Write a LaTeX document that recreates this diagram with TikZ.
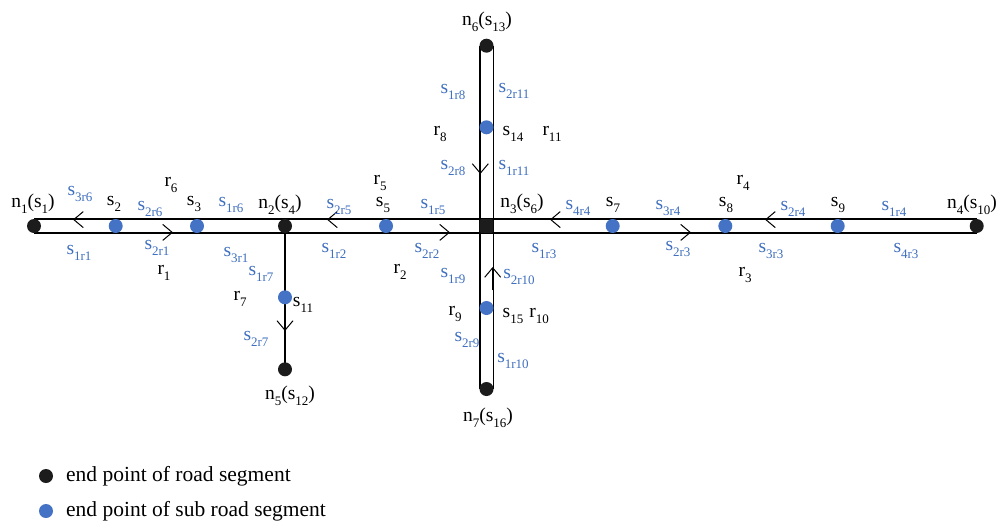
\documentclass[tikz,border=0pt]{standalone}
\usepackage{fontspec}
\setmainfont{Liberation Serif}
\usetikzlibrary{arrows.meta}
\definecolor{dotblue}{RGB}{68,114,196}
\definecolor{txtblue}{RGB}{62,110,190}
\definecolor{dotblack}{RGB}{28,28,28}
\newcommand{\lbl}[2]{#1\raisebox{-0.32em}{\fontsize{13}{13}\selectfont #2}}
\begin{document}
\begin{tikzpicture}[x=1pt,y=-1pt,
 road/.style={line width=1.2pt, black},
 marker/.style={line width=1pt, -{Straight Barb[length=9.5pt,width=16pt]}},
 enddot/.style={circle, fill=dotblack, inner sep=0pt, minimum size=14pt},
 subdot/.style={circle, fill=dotblue, inner sep=0pt, minimum size=14pt},
 lab/.style={font=\fontsize{19.5}{22}\selectfont, inner sep=0pt, text=black},
 slab/.style={lab, text=txtblue}]
\useasboundingbox (0,0) rectangle (1000,522);
% positions
\coordinate (n1) at (34,226);
\coordinate (s2) at (115.7,226);
\coordinate (s3) at (197,226);
\coordinate (n2) at (285,226);
\coordinate (s5) at (386,226);
\coordinate (n3) at (486.5,226);
\coordinate (s7) at (612.7,226);
\coordinate (s8) at (725.3,226);
\coordinate (s9) at (837.7,226);
\coordinate (n4) at (976.7,226);
\coordinate (n6) at (486.5,45.7);
\coordinate (s14) at (486.5,127.3);
\coordinate (s15) at (486.5,308);
\coordinate (n7) at (486.5,389);
\coordinate (s11) at (285,297.3);
\coordinate (n5) at (285,369.3);
% roads
\draw[road] ([yshift=7pt]n1) -- ([yshift=7pt]n4);
\draw[road] ([yshift=-7pt]n1) -- ([yshift=-7pt]n4);
\draw[road] ([xshift=-6.6pt]n6) -- ([xshift=-6.6pt]n7);
\draw[road] ([xshift=6.6pt]n6) -- ([xshift=6.6pt]n7);
\draw[road] (n2) -- (n5);
% direction markers
\draw[marker] (90,219.6) -- (73,219.6);
\draw[marker] (367,219.6) -- (327,219.6);
\draw[marker] (583,219.6) -- (550,219.6);
\draw[marker] (805,219.6) -- (765,219.6);
\draw[marker] (133,232.4) -- (173,232.4);
\draw[marker] (407,232.4) -- (450,232.4);
\draw[marker] (650,232.4) -- (691,232.4);
\draw[marker] (480.3,140) -- (480.3,174);
\draw[marker] (492.7,290) -- (492.7,267);
\draw[marker] (285,310) -- (285,331);
% dots
\node[enddot] (dn1) at (n1) {};
\node[enddot] (dn2) at (n2) {};
\node[enddot, rectangle, rounded corners=2pt, minimum size=13.8pt] (dn3) at (n3) {};
\node[enddot] (dn4) at (n4) {};
\node[enddot] (dn5) at (n5) {};
\node[enddot] (dn6) at (n6) {};
\node[enddot] (dn7) at (n7) {};
\foreach \p in {s2,s3,s5,s7,s8,s9,s11,s14,s15} {\node[subdot] (d\p) at (\p) {};}
% black labels
\node[lab] (ln1) at (33,204) {\lbl{n}{1}(\lbl{s}{1})};
\node[lab] (ls2) at (114,204) {\lbl{s}{2}};
\node[lab] (ls3) at (194,204) {\lbl{s}{3}};
\node[lab] (ln2) at (280,205) {\lbl{n}{2}(\lbl{s}{4})};
\node[lab] (ls5) at (383,205) {\lbl{s}{5}};
\node[lab] (ln3) at (522,204) {\lbl{n}{3}(\lbl{s}{6})};
\node[lab] (ls7) at (613,205) {\lbl{s}{7}};
\node[lab] (ls8) at (726,205) {\lbl{s}{8}};
\node[lab] (ls9) at (838,205) {\lbl{s}{9}};
\node[lab] (ln4) at (972,205) {\lbl{n}{4}(\lbl{s}{10})};
\node[lab] (ln6) at (487,22) {\lbl{n}{6}(\lbl{s}{13})};
\node[lab] (ln7) at (488,418) {\lbl{n}{7}(\lbl{s}{16})};
\node[lab] (ln5) at (290,396) {\lbl{n}{5}(\lbl{s}{12})};
\node[lab] (ls11) at (303,305) {\lbl{s}{11}};
\node[lab] (ls14) at (513,134) {\lbl{s}{14}};
\node[lab] (ls15) at (513,316) {\lbl{s}{15}};
\node[lab] (lr1) at (164,273) {\lbl{r}{1}};
\node[lab] (lr2) at (400,272) {\lbl{r}{2}};
\node[lab] (lr3) at (745,275) {\lbl{r}{3}};
\node[lab] (lr4) at (743,183) {\lbl{r}{4}};
\node[lab] (lr5) at (380,183) {\lbl{r}{5}};
\node[lab] (lr6) at (171,185) {\lbl{r}{6}};
\node[lab] (lr7) at (240,299) {\lbl{r}{7}};
\node[lab] (lr8) at (440,134) {\lbl{r}{8}};
\node[lab] (lr9) at (455,314) {\lbl{r}{9}};
\node[lab] (lr10) at (539,316) {\lbl{r}{10}};
\node[lab] (lr11) at (552,134) {\lbl{r}{11}};
% blue labels
\node[slab] (a1) at (80,194) {\lbl{s}{3r6}};
\node[slab] (a2) at (150,209) {\lbl{s}{2r6}};
\node[slab] (a3) at (231,205) {\lbl{s}{1r6}};
\node[slab] (a4) at (79,253) {\lbl{s}{1r1}};
\node[slab] (a5) at (157,248) {\lbl{s}{2r1}};
\node[slab] (a6) at (236,255) {\lbl{s}{3r1}};
\node[slab] (a7) at (339,207) {\lbl{s}{2r5}};
\node[slab] (a8) at (433,207) {\lbl{s}{1r5}};
\node[slab] (a9) at (334,251) {\lbl{s}{1r2}};
\node[slab] (a10) at (427,251) {\lbl{s}{2r2}};
\node[slab] (a11) at (261,274) {\lbl{s}{1r7}};
\node[slab] (a12) at (256,339) {\lbl{s}{2r7}};
\node[slab] (a13) at (453,92) {\lbl{s}{1r8}};
\node[slab] (a14) at (514,91) {\lbl{s}{2r11}};
\node[slab] (a15) at (453,168) {\lbl{s}{2r8}};
\node[slab] (a16) at (514,168) {\lbl{s}{1r11}};
\node[slab] (a17) at (453,276) {\lbl{s}{1r9}};
\node[slab] (a18) at (519,277) {\lbl{s}{2r10}};
\node[slab] (a19) at (467,340) {\lbl{s}{2r9}};
\node[slab] (a20) at (513,361) {\lbl{s}{1r10}};
\node[slab] (a21) at (578,208) {\lbl{s}{4r4}};
\node[slab] (a22) at (668,208) {\lbl{s}{3r4}};
\node[slab] (a23) at (544,251) {\lbl{s}{1r3}};
\node[slab] (a24) at (678,249) {\lbl{s}{2r3}};
\node[slab] (a25) at (793,209) {\lbl{s}{2r4}};
\node[slab] (a26) at (894,209) {\lbl{s}{1r4}};
\node[slab] (a27) at (771,251) {\lbl{s}{3r3}};
\node[slab] (a28) at (906,251) {\lbl{s}{4r3}};
% legend
\node[enddot] (lg1) at (46,476) {};
\node[subdot] (lg2) at (46,511) {};
\node[lab, anchor=west, font=\fontsize{21.5}{24}\selectfont] (lt1) at (66,476) {end point of road segment};
\node[lab, anchor=west, font=\fontsize{21.5}{24}\selectfont] (lt2) at (66,511) {end point of sub road segment};
\end{tikzpicture}
\end{document}
